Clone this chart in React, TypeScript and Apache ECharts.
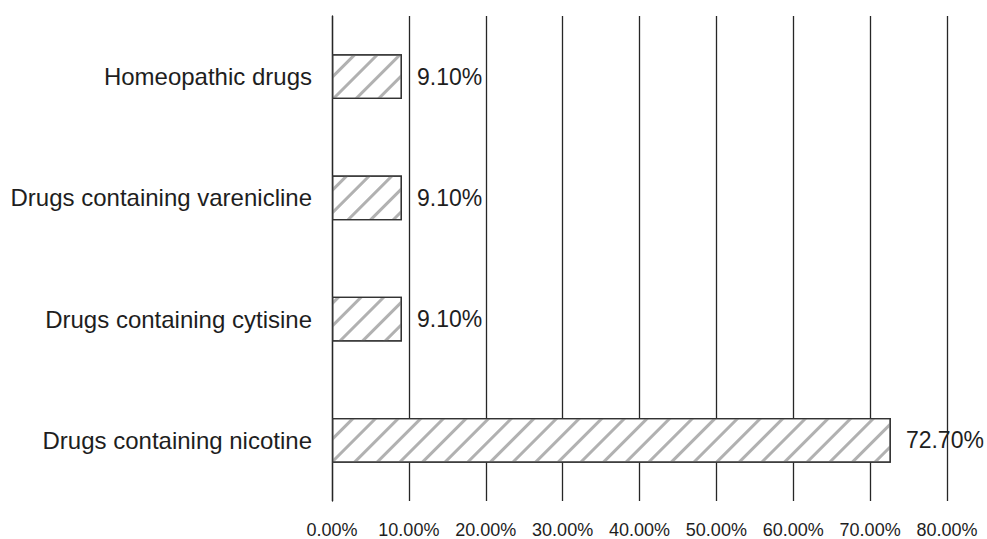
import React, { useEffect, useRef } from "react";
import * as echarts from "echarts";

const categories = [
  "Drugs containing nicotine",
  "Drugs containing cytisine",
  "Drugs containing varenicline",
  "Homeopathic drugs",
];
const values = [72.7, 9.1, 9.1, 9.1];
const xTicks = [0, 10, 20, 30, 40, 50, 60, 70, 80];

const FONT = "Liberation Sans, Arial, Helvetica, sans-serif";

export default function App() {
  const ref = useRef<HTMLDivElement>(null);
  useEffect(() => {
    const chart = echarts.init(ref.current!, null, { renderer: "svg" });
    chart.setOption({
      animation: false,
      grid: { left: 332, right: 40, top: 16, bottom: 37, containLabel: false },
      xAxis: {
        type: "value",
        min: xTicks[0],
        max: xTicks[xTicks.length - 1],
        interval: 10,
        axisLine: { show: false },
        axisTick: { show: false },
        splitLine: { show: true, lineStyle: { color: "#262626", width: 1.3 } },
        axisLabel: {
          margin: 20,
          fontFamily: FONT,
          fontSize: 18,
          color: "#1e1e1e",
          formatter: (v: number) => v.toFixed(2) + "%",
        },
      },
      yAxis: {
        type: "category",
        data: categories,
        axisLine: { show: true, lineStyle: { color: "#262626", width: 1.3 } },
        axisTick: { show: false },
        axisLabel: {
          margin: 20,
          fontFamily: FONT,
          fontSize: 24,
          color: "#1e1e1e",
        },
      },
      series: [
        {
          type: "bar",
          data: values,
          barWidth: "37%",
          itemStyle: {
            color: "#ffffff",
            borderColor: "#333",
            borderWidth: 1.3,
            decal: {
              symbol: "rect",
              symbolSize: 1,
              color: "rgba(150,150,150,0.75)",
              dashArrayX: [1, 0],
              dashArrayY: [3, 13],
              rotation: -Math.PI / 4,
            },
          },
          label: {
            show: true,
            position: "right",
            distance: 15,
            fontFamily: FONT,
            fontSize: 23,
            color: "#1e1e1e",
            formatter: (p: any) => p.value.toFixed(2) + "%",
          },
        },
      ],
    });
    return () => chart.dispose();
  }, []);
  return <div ref={ref} style={{ width: 987, height: 539, position: "absolute", left: 0, top: 0, background: "#fff" }} />;
}
